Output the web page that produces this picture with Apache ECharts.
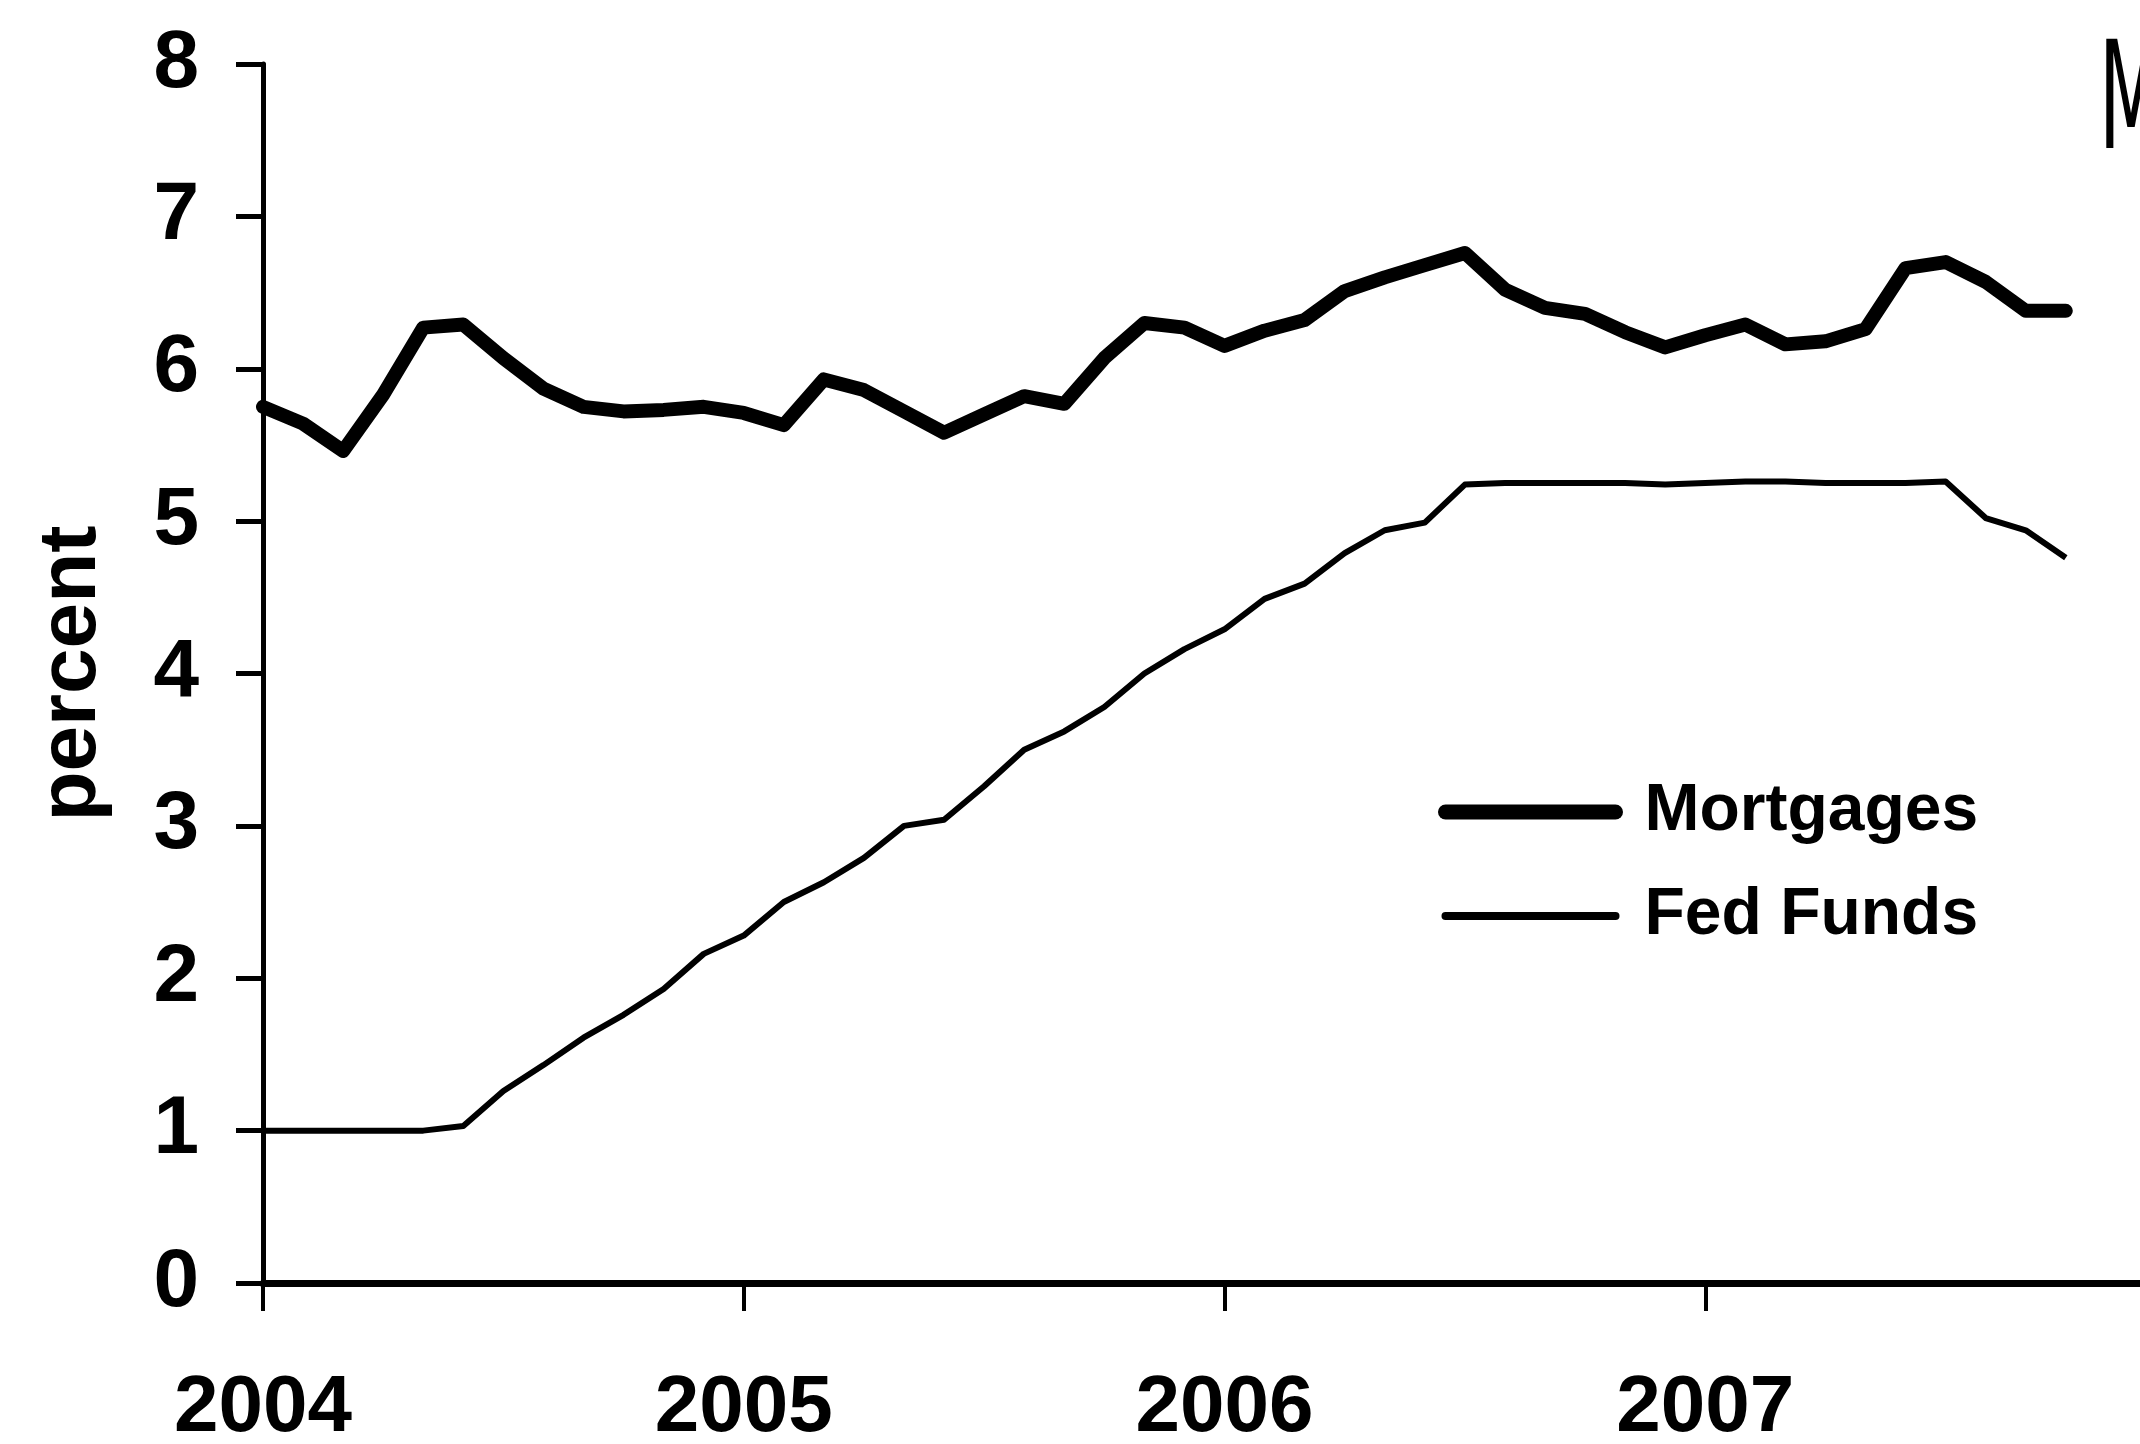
<!DOCTYPE html>
<html><head><meta charset="utf-8">
<script src="https://cdn.jsdelivr.net/npm/echarts@6/dist/echarts.min.js"></script>
<style>html,body{margin:0;padding:0;background:#fff}#c{width:2140px;height:1444px}</style>
</head><body><div id="c"></div>
<script>
// x positions are month indices starting Jan 2004 (0)
const yearLabels = ['2004', '2005', '2006', '2007'];
const yTickLabels = ['0', '1', '2', '3', '4', '5', '6', '7', '8'];
const seriesNames = ['Mortgages', 'Fed Funds'];
const mortgages = [5.75, 5.64, 5.46, 5.83, 6.27, 6.29, 6.07, 5.87, 5.75, 5.72, 5.73, 5.75,
                   5.71, 5.63, 5.93, 5.86, 5.72, 5.58, 5.70, 5.82, 5.77, 6.07, 6.30, 6.27,
                   6.15, 6.25, 6.32, 6.51, 6.60, 6.68, 6.76, 6.52, 6.40, 6.36, 6.24, 6.14,
                   6.22, 6.29, 6.16, 6.18, 6.26, 6.66, 6.70, 6.57, 6.38, 6.38];
const fedFunds = [1.00, 1.00, 1.00, 1.00, 1.00, 1.03, 1.26, 1.43, 1.61, 1.76, 1.93, 2.16,
                  2.28, 2.50, 2.63, 2.79, 3.00, 3.04, 3.26, 3.50, 3.62, 3.78, 4.00, 4.16,
                  4.29, 4.49, 4.59, 4.79, 4.94, 4.99, 5.24, 5.25, 5.25, 5.25, 5.25, 5.24,
                  5.25, 5.26, 5.26, 5.25, 5.25, 5.25, 5.26, 5.02, 4.94, 4.76];

const toPairs = arr => arr.map((v, i) => [i, v]);
const FONT = '"Liberation Sans", Arial, sans-serif';
const hidden = {color: 'rgba(0,0,0,0)', borderColor: 'rgba(0,0,0,0)', borderWidth: 0, opacity: 0};

const chart = echarts.init(document.getElementById('c'), null, {renderer: 'canvas'});
chart.setOption({
  animation: false,
  backgroundColor: '#fff',
  grid: {left: 263, top: 64, bottom: 161, right: -46, containLabel: false, outerBoundsMode: 'none'},
  xAxis: {
    type: 'value', min: 0, max: 48, interval: 12,
    axisLine: {show: true, lineStyle: {color: '#000', width: 7}},
    axisTick: {show: true, inside: false, length: 28, lineStyle: {color: '#000', width: 4}},
    axisLabel: {
      show: true, margin: 86, color: '#000', fontSize: 80, fontWeight: 'bold', fontFamily: FONT,
      formatter: v => yearLabels[Math.round(v / 12)] || ''
    },
    splitLine: {show: false}
  },
  yAxis: {
    type: 'value', min: 0, max: 8, interval: 1,
    name: 'percent', nameLocation: 'middle', nameGap: 150, nameRotate: 90,
    nameTextStyle: {color: '#000', fontSize: 82, fontWeight: 'bold', fontFamily: FONT},
    axisLine: {show: true, lineStyle: {color: '#000', width: 5}},
    axisTick: {show: true, inside: false, length: 27, lineStyle: {color: '#000', width: 5}},
    axisLabel: {
      show: true, margin: 64, color: '#000', fontSize: 82, fontWeight: 'bold', fontFamily: FONT,
      formatter: v => yTickLabels[Math.round(v)]
    },
    splitLine: {show: false}
  },
  legend: {
    show: true, orient: 'vertical', left: 1438, top: 779, padding: 0,
    itemWidth: 170, itemHeight: 20, itemGap: 38,
    textStyle: {color: '#000', fontSize: 66, fontWeight: 'bold', fontFamily: FONT, lineHeight: 66, padding: [0, 0, 0, 24]},
    data: [
      {name: seriesNames[0], lineStyle: {width: 15, color: '#000', cap: 'round'}, itemStyle: hidden},
      {name: seriesNames[1], lineStyle: {width: 8, color: '#000', cap: 'round'}, itemStyle: hidden}
    ]
  },
  graphic: [{
    type: 'text', left: 2099, top: 34, silent: true, scaleX: 0.55,
    style: {text: 'M', font: 'normal 150px "Liberation Sans Narrow", "DejaVu Sans Condensed", sans-serif', fill: '#000'}
  }],
  series: [
    {
      name: seriesNames[0], type: 'line', data: toPairs(mortgages), symbol: 'none',
      lineStyle: {color: '#000', width: 14, cap: 'round', join: 'round'}, itemStyle: {color: '#000'}
    },
    {
      name: seriesNames[1], type: 'line', data: toPairs(fedFunds), symbol: 'none',
      lineStyle: {color: '#000', width: 6, join: 'round'}, itemStyle: {color: '#000'}
    }
  ]
});
</script>
</body></html>
